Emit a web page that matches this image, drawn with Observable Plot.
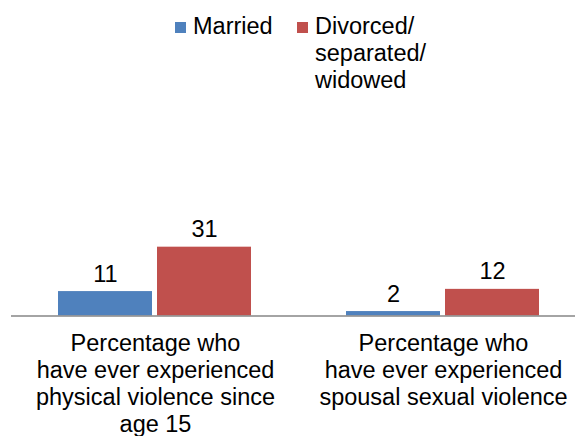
<!DOCTYPE html>
<html>
<head>
<meta charset="utf-8">
<script src="https://cdn.jsdelivr.net/npm/d3@7"></script>
<script src="https://cdn.jsdelivr.net/npm/@observablehq/plot@0.6"></script>
<style>
  html, body { margin: 0; padding: 0; background: #fff; overflow: hidden; }
  #wrap { width: 575px; height: 436px; position: relative; font-family: "Liberation Sans", Arial, sans-serif; }
  #legend { position: relative; width: 575px; height: 100px; font-size: 23.5px; line-height: 27px; color: #000; }
  .sw { position: absolute; width: 11px; height: 11px; top: 22px; }
  .lt { position: absolute; top: 12.5px; white-space: nowrap; }
</style>
</head>
<body>
<div id="wrap">
  <div id="legend"></div>
  <div id="chart"></div>
</div>
<script>
const categories = [
  "Percentage who\nhave ever experienced\nphysical violence since\nage 15",
  "Percentage who\nhave ever experienced\nspousal sexual violence"
];
const series = ["Married", "Divorced/\nseparated/\nwidowed"];
const married = [11, 2];
const divorced = [31, 12];
const colors = ["#4F81BD", "#C0504D"];

const rows = [];
categories.forEach((c, i) => {
  rows.push({category: c, series: series[0], value: married[i]});
  rows.push({category: c, series: series[1], value: divorced[i]});
});

// Legend (HTML, above the SVG)
const legend = document.getElementById("legend");
const legendPos = [{sw: 175, tx: 193}, {sw: 297, tx: 315}];
series.forEach((s, i) => {
  const sw = document.createElement("div");
  sw.className = "sw";
  sw.style.left = legendPos[i].sw + "px";
  sw.style.background = colors[i];
  legend.appendChild(sw);
  const t = document.createElement("div");
  t.className = "lt";
  t.style.left = legendPos[i].tx + "px";
  s.split("\n").forEach((line, j) => {
    if (j) t.appendChild(document.createElement("br"));
    t.appendChild(document.createTextNode(line));
  });
  legend.appendChild(t);
});

const base = 215.5;
const pxPerUnit = 2.22;
const yMax = 35;

const chart = Plot.plot({
  width: 575,
  height: 336,
  marginLeft: 11,
  marginRight: -12,
  marginTop: 0,
  marginBottom: 0,
  style: {fontFamily: "'Liberation Sans', Arial, sans-serif", overflow: "hidden", background: "white", color: "#000"},
  fx: {domain: categories, padding: 0, axis: null},
  x: {domain: series, paddingInner: 0.0505, paddingOuter: 0.478, axis: null},
  y: {domain: [0, yMax], range: [base, base - yMax * pxPerUnit], axis: null},
  color: {domain: series, range: colors},
  marks: [
    Plot.barY(rows, {fx: "category", x: "series", y: "value", fill: "series"}),
    Plot.ruleY([0], {stroke: "#868686", strokeWidth: 1.5}),
    Plot.text(rows, {fx: "category", x: "series", y: "value", text: d => String(d.value),
      dy: -10, lineAnchor: "bottom", fontSize: 23.5, fill: "#000"}),
    Plot.text(categories, {fx: d => d, y: 0, text: d => d, lineAnchor: "top", dy: 16,
      lineHeight: 1.149, fontSize: 23.5, fill: "#000"})
  ]
});
document.getElementById("chart").appendChild(chart);
</script>
</body>
</html>
